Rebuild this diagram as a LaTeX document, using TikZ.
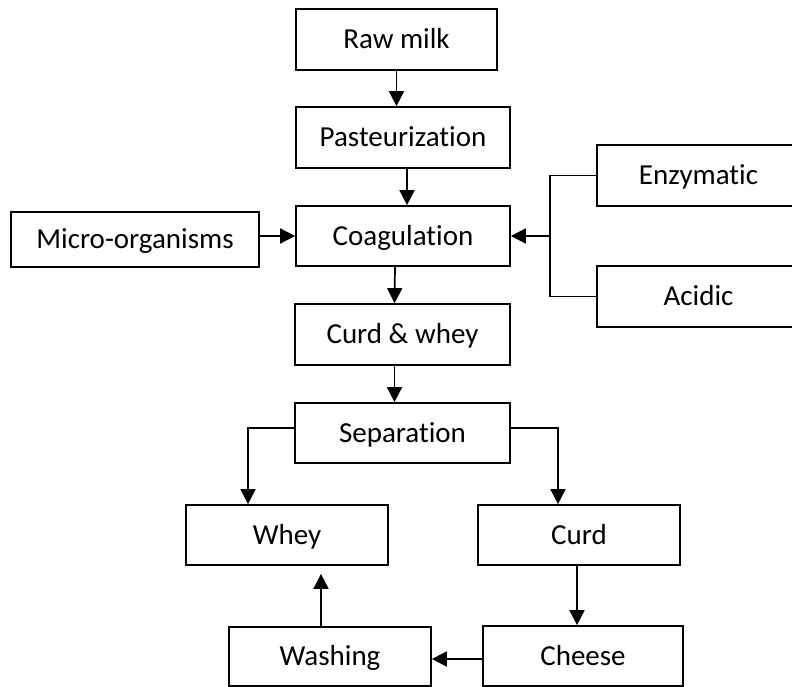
\documentclass[tikz,border=0pt]{standalone}
\usepackage{fontspec}
\setmainfont{Carlito}[Ligatures=NoCommon]
\usetikzlibrary{arrows.meta}
\begin{document}
\begin{tikzpicture}[x=1pt,y=-1pt,
  label text/.style={inner sep=0pt, text height=18.5pt, text depth=0pt,
    font=\fontsize{29}{34}\selectfont},
  box/.style 2 args={draw, line width=1.7pt, minimum width=#1pt, minimum height=#2pt,
    label text},
  openbox/.style 2 args={minimum width=#1pt, minimum height=#2pt, label text},
  link/.style={line width=1.7pt},
  arr/.style={line width=1.7pt, -{Triangle[length=15pt,width=15pt]}}]
\useasboundingbox (0,0) rectangle (792,687);

% main process column
\node[box={201}{61}] (raw)  at (396.5,39.5) {Raw milk};
\node[box={214}{61}] (past) at (403,137.5)  {Pasteurization};
\node[box={214}{60}] (coag) at (403,236)    {Coagulation};
\node[box={215}{61}] (cw)   at (402.5,334.5) {Curd \& whey};
\node[box={215}{60}] (sep)  at (402.5,433)  {Separation};

% side inputs (the two coagulant boxes run off the right edge)
\node[box={248}{55}] (micro) at (135,239.5) {Micro-organisms};
\node[openbox={203}{61}] (enz)  at (698.5,175.5) {Enzymatic};
\node[openbox={203}{61}] (acid) at (698.5,296.5) {Acidic};
\coordinate (enzend) at (792,0);
\draw[link] (enz.north -| enzend) -- (enz.north west) -- (enz.south west) -- (enz.south -| enzend);
\draw[link] (acid.north -| enzend) -- (acid.north west) -- (acid.south west) -- (acid.south -| enzend);

% products
\node[box={202}{60}] (whey)  at (287,535)   {Whey};
\node[box={202}{60}] (curd)  at (579,535)   {Curd};
\node[box={202}{59}] (wash)  at (330,656.5) {Washing};
\node[box={200}{60}] (chee)  at (583,656)   {Cheese};

\coordinate (jn) at (550,236);

% connectors
\draw[arr] (raw.south) -- (raw.south |- past.north);
\draw[arr] ([xshift=4pt]past.south) -- ([xshift=4pt]coag.north);
\draw[arr] (micro.east |- coag.west) -- (coag.west);
\draw[link] (enz.west) -| (jn) |- (acid.west);
\draw[arr] (jn) -- (coag.east);
\draw[arr] ([xshift=-8pt]coag.south) -- ([xshift=-8pt]cw.north);
\draw[arr] ([xshift=-8pt]cw.south) -- ([xshift=-8pt]sep.north);
\draw[arr] ([yshift=5pt]sep.west) -| ([xshift=-39pt]whey.north);
\draw[arr] ([yshift=5pt]sep.east) -| ([xshift=-21pt]curd.north);
\draw[arr] ([xshift=-2pt]curd.south) -- ([xshift=-2pt]curd.south |- chee.north);
\draw[arr] (chee.west |- 0,659) -- (wash.east |- 0,659);
\draw[arr, shorten >=8pt] ([xshift=-9pt]wash.north) -- ([xshift=-9pt]wash.north |- whey.south);
\end{tikzpicture}
\end{document}
